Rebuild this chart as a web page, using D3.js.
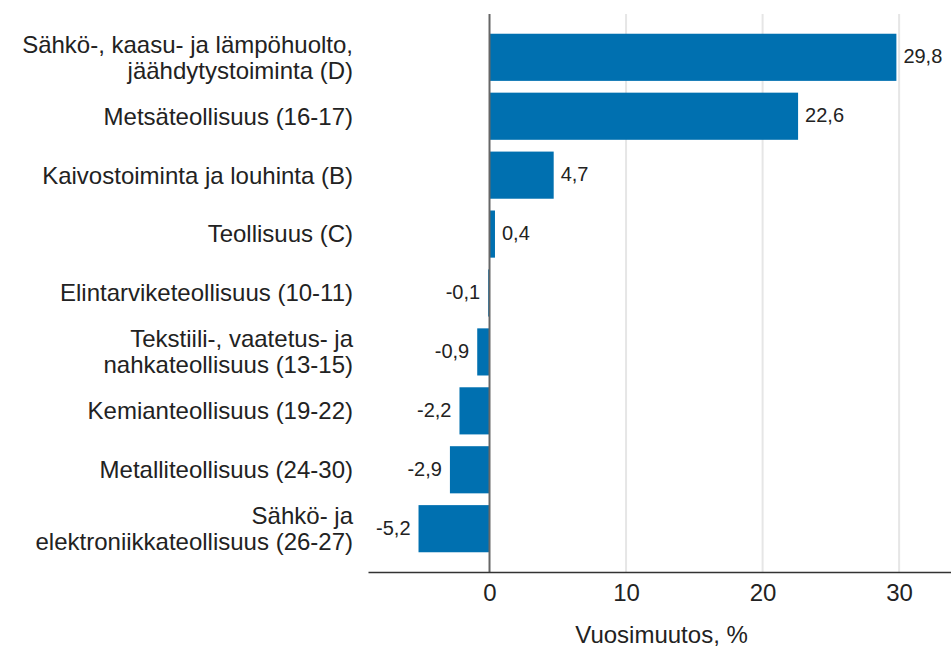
<!DOCTYPE html>
<html>
<head>
<meta charset="utf-8">
<script src="https://cdn.jsdelivr.net/npm/d3@7"></script>
<style>
body { margin: 0; background: #fff; }
text { font-family: "Liberation Sans", Arial, sans-serif; fill: #222; }
</style>
</head>
<body>
<script>
// toimialat ja vuosimuutokset
var categories = [
  ["Sähkö-, kaasu- ja lämpöhuolto,", "jäähdytystoiminta (D)"],
  ["Metsäteollisuus (16-17)"],
  ["Kaivostoiminta ja louhinta (B)"],
  ["Teollisuus (C)"],
  ["Elintarviketeollisuus (10-11)"],
  ["Tekstiili-, vaatetus- ja", "nahkateollisuus (13-15)"],
  ["Kemianteollisuus (19-22)"],
  ["Metalliteollisuus (24-30)"],
  ["Sähkö- ja", "elektroniikkateollisuus (26-27)"]
];
var values = [29.8, 22.6, 4.7, 0.4, -0.1, -0.9, -2.2, -2.9, -5.2];
var ticks = [0, 10, 20, 30];
var axisTitle = "Vuosimuutos, %";

var W = 951, H = 648;
var svg = d3.select("body").append("svg").attr("width", W).attr("height", H);

var x = d3.scaleLinear().domain([-8.9, 33.8]).range([368, 951]);
var y = d3.scaleBand().domain(d3.range(values.length)).range([14, 572])
  .paddingInner(0.2).paddingOuter(0.335);

// gridlines
svg.append("g").selectAll("line").data(ticks.filter(function(t){return t!=0;}))
  .enter().append("line")
  .attr("x1", function(d){return x(d);}).attr("x2", function(d){return x(d);})
  .attr("y1", 14).attr("y2", 572)
  .attr("stroke", "#e6e6e6").attr("stroke-width", 2);

svg.append("g").selectAll("rect").data(values).enter().append("rect")
  .attr("x", function(d){return x(Math.min(0,d));})
  .attr("width", function(d){return Math.abs(x(d)-x(0));})
  .attr("y", function(d,i){return y(i);})
  .attr("height", y.bandwidth())
  .attr("fill", "#0070b0");

// zero line
svg.append("line").attr("x1", x(0)).attr("x2", x(0)).attr("y1", 14).attr("y2", 572)
  .attr("stroke", "#666").attr("stroke-width", 2);

// value labels
svg.append("g").selectAll("text").data(values).enter().append("text")
  .attr("x", function(d){return d >= 0 ? x(d)+7 : x(d)-8;})
  .attr("y", function(d,i){return y(i)+y.bandwidth()/2;})
  .attr("dy", "0.3em")
  .attr("text-anchor", function(d){return d >= 0 ? "start" : "end";})
  .style("font-size", "20px")
  .text(function(d){return String(d).replace(".", ",");});

// category labels
var cl = svg.append("g").selectAll("text").data(categories).enter().append("text")
  .attr("text-anchor", "end")
  .style("font-size", "24px")
  .attr("y", function(d,i){return y(i)+y.bandwidth()/2;});
cl.each(function(d){
  var t = d3.select(this);
  d.forEach(function(line, j){
    t.append("tspan").attr("x", 353)
      .attr("dy", j==0 ? (0.35 - (d.length-1)*0.54)+"em" : "1.08em")
      .text(line);
  });
});

// x axis
var ax = svg.append("g").attr("transform", "translate(0,572)")
  .call(d3.axisBottom(x).tickValues(ticks).tickSize(0).tickPadding(12));
ax.select(".domain").attr("stroke", "#333").attr("stroke-width", 1.5);
ax.selectAll("text").style("font-size", "24px").attr("fill", "#222")
  .style("font-family", "Liberation Sans, Arial, sans-serif");

svg.append("text").attr("x", x(12.6)).attr("y", 643)
  .attr("text-anchor", "middle").style("font-size", "24px").text(axisTitle);
</script>
</body>
</html>
